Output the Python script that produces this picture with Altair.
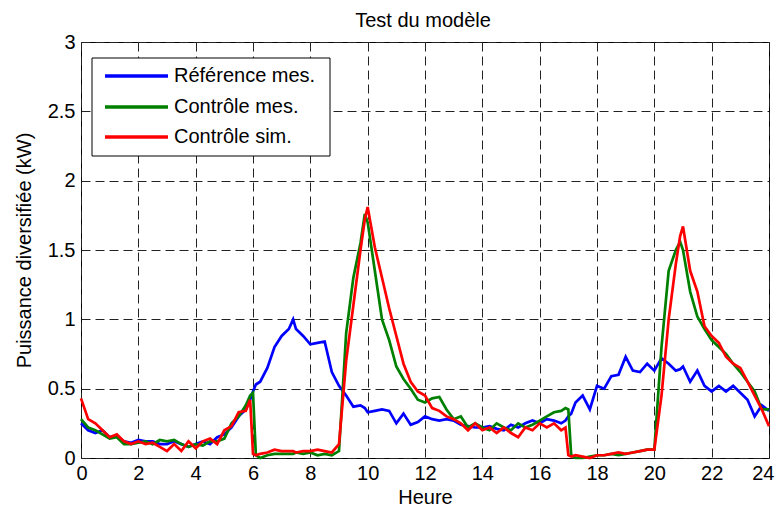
import altair as alt
import pandas as pd

hours = [0, 0.25, 0.5, 0.75, 1, 1.25, 1.5, 1.75, 2, 2.25, 2.5, 2.75, 3, 3.25, 3.5, 3.75,
         4, 4.25, 4.5, 4.75, 5, 5.25, 5.5, 5.75,
         5.9, 6, 6.1, 6.25, 6.5, 6.75, 7, 7.25, 7.4, 7.5, 7.75,
         8, 8.25, 8.5, 8.75, 9, 9.25, 9.5, 9.75, 9.9, 10, 10.25, 10.5, 10.75, 11, 11.25, 11.5, 11.75,
         12, 12.25, 12.5, 12.75, 13, 13.25, 13.5, 13.75, 14, 14.25, 14.5, 14.75, 15, 15.25, 15.5, 15.75,
         16, 16.25, 16.5, 16.75,
         16.9, 17, 17.1, 17.25, 17.5, 17.75,
         18, 18.25, 18.5, 18.75, 19, 19.25, 19.5, 19.75, 20, 20.25, 20.5, 20.75,
         20.9, 21, 21.25, 21.5, 21.75, 22, 22.25, 22.5, 22.75, 23, 23.25, 23.5, 23.75, 24]

reference_mes = [0.25, 0.2, 0.18, 0.2, 0.15, 0.16, 0.12, 0.11, 0.13, 0.12, 0.12, 0.1, 0.1, 0.12, 0.1, 0.08,
                 0.1, 0.12, 0.1, 0.15, 0.17, 0.22, 0.3, 0.35,
                 0.42, 0.48, 0.53, 0.55, 0.65, 0.8, 0.88, 0.93, 1.0, 0.93, 0.88,
                 0.82, 0.83, 0.84, 0.62, 0.52, 0.45, 0.37, 0.38, 0.36, 0.33, 0.34, 0.35, 0.34, 0.25, 0.32, 0.24, 0.26,
                 0.3, 0.28, 0.27, 0.28, 0.27, 0.24, 0.23, 0.22, 0.22, 0.23, 0.21, 0.2, 0.24, 0.22, 0.25, 0.27,
                 0.25, 0.28, 0.27, 0.25,
                 0.27, 0.3, 0.32, 0.4, 0.45, 0.35,
                 0.52, 0.5, 0.59, 0.6, 0.73, 0.63, 0.62, 0.68, 0.63, 0.72, 0.68, 0.63,
                 0.64, 0.66, 0.55, 0.63, 0.52, 0.48, 0.52, 0.48, 0.52, 0.47, 0.42, 0.3, 0.38, 0.34]

controle_mes = [0.28, 0.22, 0.2, 0.17, 0.14, 0.15, 0.1, 0.1, 0.11, 0.12, 0.1, 0.13, 0.12, 0.13, 0.1, 0.08,
                0.1, 0.09, 0.12, 0.12, 0.14, 0.25, 0.3, 0.38,
                0.45, 0.47, 0.02, 0.0, 0.02, 0.03, 0.03, 0.03, 0.03, 0.04, 0.03,
                0.04, 0.02, 0.03, 0.02, 0.05, 0.9, 1.3, 1.55, 1.76, 1.7, 1.35, 1.0, 0.85, 0.66, 0.57, 0.5, 0.42,
                0.4, 0.43, 0.44, 0.35, 0.28, 0.3, 0.22, 0.25, 0.22, 0.2, 0.25, 0.22, 0.2, 0.25, 0.22, 0.24,
                0.27, 0.3, 0.33, 0.34,
                0.36, 0.35, 0.02, 0.0, 0.0, 0.01,
                0.02, 0.02, 0.03, 0.02, 0.03, 0.04, 0.05, 0.06, 0.06, 0.8, 1.35, 1.5,
                1.56, 1.5, 1.2, 1.02, 0.93, 0.85, 0.8, 0.75, 0.68, 0.62, 0.55, 0.48, 0.35, 0.35]

controle_sim = [0.43, 0.28, 0.25, 0.2, 0.15, 0.17, 0.12, 0.1, 0.12, 0.1, 0.11, 0.08, 0.05, 0.1, 0.05, 0.12,
                0.07, 0.12, 0.14, 0.1, 0.2, 0.23, 0.33, 0.34,
                0.42, 0.03, 0.02, 0.03, 0.04, 0.06, 0.05, 0.05, 0.05, 0.04, 0.05,
                0.05, 0.06, 0.05, 0.04, 0.1, 0.7, 1.1, 1.5, 1.72, 1.81, 1.52, 1.3, 1.08, 0.88, 0.68, 0.55, 0.48,
                0.45, 0.36, 0.34, 0.3, 0.28, 0.25, 0.2, 0.25, 0.2, 0.22, 0.18, 0.22, 0.18, 0.15, 0.22, 0.2,
                0.25, 0.22, 0.25, 0.2,
                0.22, 0.02, 0.01, 0.02, 0.01, 0.0,
                0.02, 0.02, 0.03, 0.04, 0.03, 0.04, 0.05, 0.06, 0.06, 0.45, 1.0, 1.4,
                1.6, 1.67, 1.35, 1.2, 0.95, 0.88, 0.83, 0.73, 0.68, 0.65, 0.55, 0.45, 0.35, 0.23]

series_names = ["Référence mes.", "Contrôle mes.", "Contrôle sim."]
series_colors = ["#0000ff", "#008000", "#ff0000"]
x_ticks = [0, 2, 4, 6, 8, 10, 12, 14, 16, 18, 20, 22, 24]
y_ticks = [0, 0.5, 1, 1.5, 2, 2.5, 3]
chart_title = "Test du modèle"

rows = []
for name, vals in zip(series_names, [reference_mes, controle_mes, controle_sim]):
    for h, v in zip(hours, vals):
        rows.append({"Heure": h, "P": v, "serie": name})
df = pd.DataFrame(rows)

FONT = "Liberation Sans"

x_enc = alt.X("Heure:Q", scale=alt.Scale(domain=[0, 24], nice=False, zero=False),
              axis=alt.Axis(values=x_ticks, title="Heure", format="d",
                            labelBaseline="alphabetic", labelPadding=21,
                            labelFlush=True, labelFlushOffset=5,
                            titleX=344, titleY=45, titleAlign="center",
                            titleBaseline="alphabetic", titleAngle=0))
y_enc = alt.Y("P:Q", scale=alt.Scale(domain=[0, 3], nice=False),
              axis=alt.Axis(values=y_ticks, title="Puissance diversifiée (kW)", format="~g",
                            labelBaseline="middle", labelPadding=6, labelAlign="right",
                            labelFlush=False,
                            titleX=-51, titleY=208, titleAlign="center",
                            titleBaseline="alphabetic", titleAngle=270))

lines = []
for name, col in zip(series_names, series_colors):
    lines.append(
        alt.Chart(df).transform_filter(alt.datum.serie == name)
        .mark_line(color=col, strokeWidth=2.7)
        .encode(x=x_enc, y=y_enc)
    )

one = alt.Data(values=[{}])
legend_box = alt.Chart(one).mark_rect(fill="white", stroke="black", strokeWidth=1).encode(
    x=alt.value(11), x2=alt.value(249), y=alt.value(16), y2=alt.value(114))

legend_rows_y = [34, 65, 95]
legend_layers = []
for name, col, yy in zip(series_names, series_colors, legend_rows_y):
    legend_layers.append(
        alt.Chart(one).mark_rule(color=col, strokeWidth=3.5).encode(
            x=alt.value(24), x2=alt.value(87), y=alt.value(yy)))
    legend_layers.append(
        alt.Chart(one).mark_text(align="left", baseline="middle", fontSize=20, font=FONT,
                                 color="black").encode(
            x=alt.value(93), y=alt.value(yy), text=alt.value(name)))

title_layer = alt.Chart(one).mark_text(align="center", baseline="alphabetic", fontSize=20,
                                       font=FONT, color="black").encode(
    x=alt.value(342), y=alt.value(-15), text=alt.value(chart_title))

chart = alt.layer(*lines, legend_box, *legend_layers, title_layer).properties(
    width=688, height=416,
    autosize=alt.AutoSizeParams(type="none"),
    padding={"left": 73, "top": 34, "right": 6, "bottom": 50},
).configure_view(
    stroke="black", strokeWidth=1
).configure_axis(
    grid=True, gridColor="#222222", gridDash=[9, 5], gridWidth=1, gridOpacity=1,
    domain=False, ticks=False, tickSize=0,
    labelFont=FONT, labelFontSize=20, labelColor="black",
    titleFont=FONT, titleFontSize=20, titleFontWeight="normal", titleColor="black",
    labelOverlap=False
)

chart.save("out.html", embed_options={"renderer": "svg", "actions": False})
